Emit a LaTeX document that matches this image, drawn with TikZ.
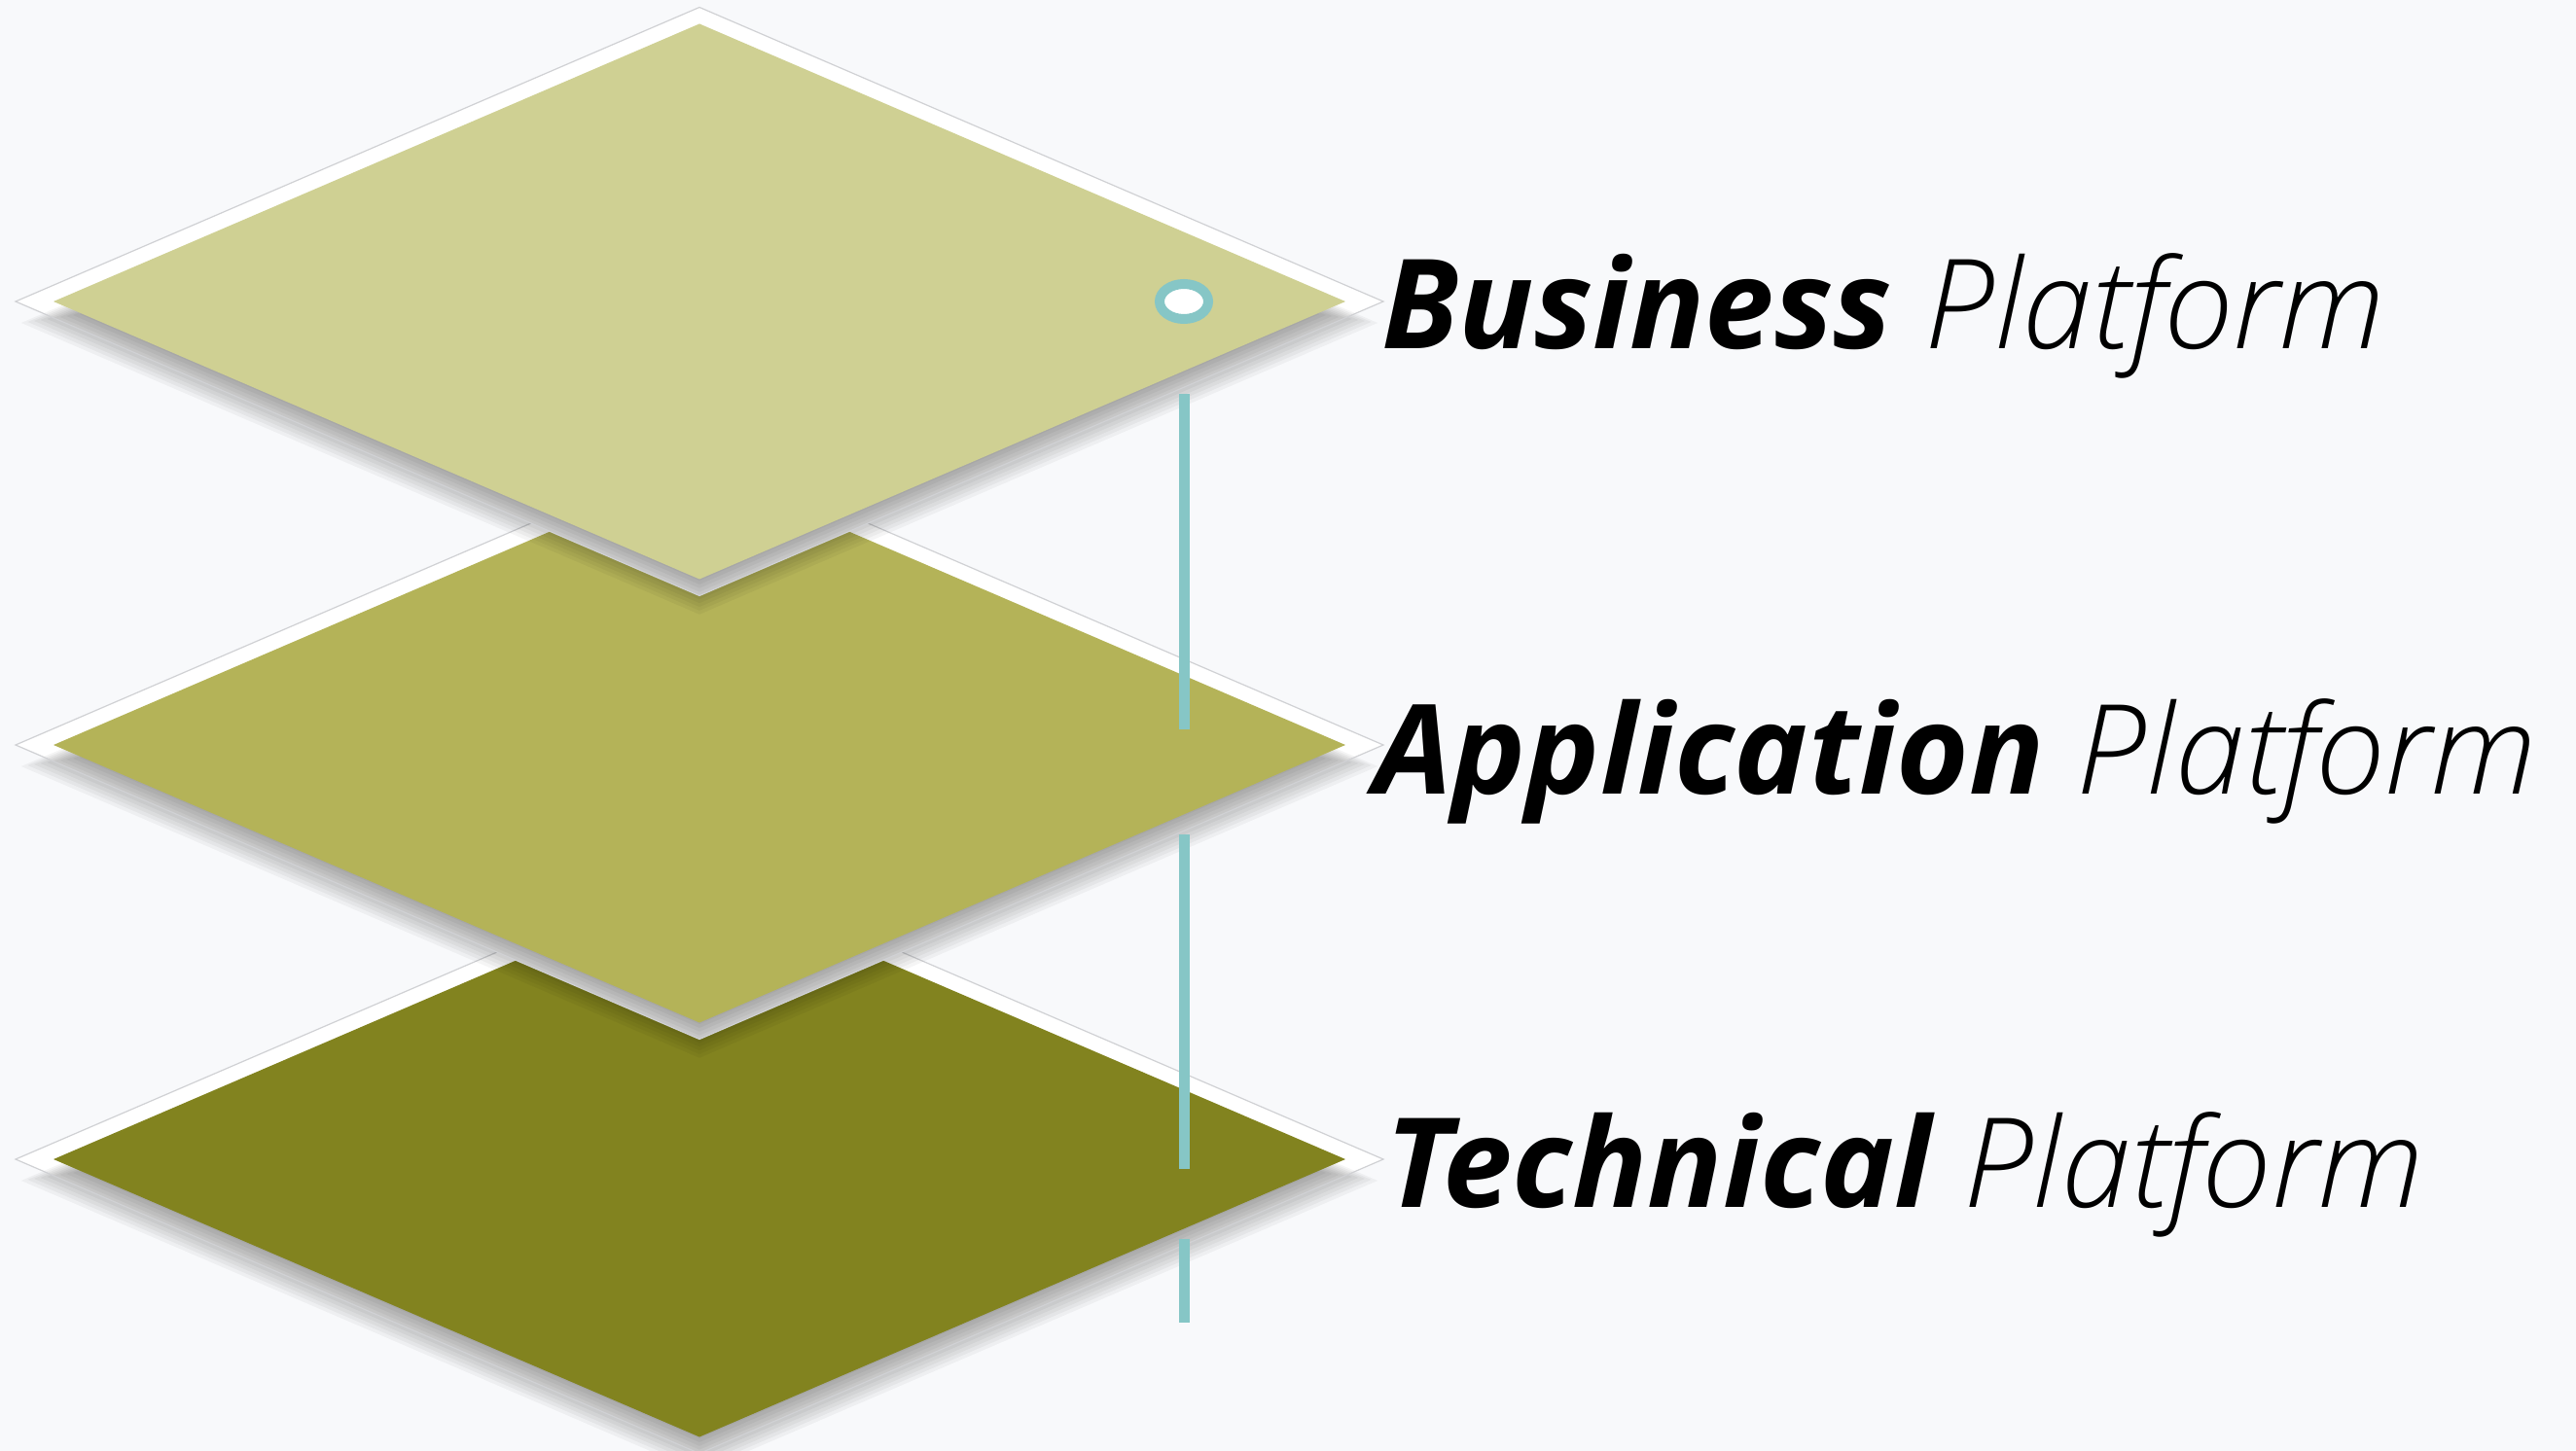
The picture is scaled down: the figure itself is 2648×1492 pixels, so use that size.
\documentclass[tikz,border=0pt]{standalone}
\usepackage{fontspec}
\IfFontExistsTF{Open Sans}{\setmainfont{Open Sans}}{\setmainfont{Liberation Sans}}
\IfFontExistsTF{OpenSans-LightItalic.ttf}{\newfontfamily\lightface{OpenSans-LightItalic.ttf}[ItalicFont=OpenSans-LightItalic.ttf]}{\newfontfamily\lightface{Open Sans}}
\usetikzlibrary{positioning}
\definecolor{pagebg}{RGB}{248,249,251}
\definecolor{bizgreen}{RGB}{207,208,147}
\definecolor{appgreen}{RGB}{180,179,88}
\definecolor{techgreen}{RGB}{130,131,31}
\definecolor{linkteal}{RGB}{134,198,198}
\definecolor{rimgray}{RGB}{208,209,212}
\newcommand{\platformpath}[2]{(-#1,0) -- (0,-#2) -- (#1,0) -- (0,#2) -- cycle}
\tikzset{board/.style={fill=white},
  rim/.style={draw=rimgray,line width=0.6pt},
  link/.style={draw=linkteal,line width=5.5pt},
  platlabel/.style={anchor=base west,inner sep=0pt,font=\fontsize{64}{70}\selectfont} }

\begin{document}
\begin{tikzpicture}[x=0.5pt,y=-0.5pt]
  \fill[pagebg] (0,0) rectangle (2648,1492);
  \useasboundingbox (0,0) rectangle (2648,1492);

  % platforms, lowest first
  \foreach \cy/\col/\nm in {1192/techgreen/tech,766/appgreen/app,310/bizgreen/biz}{
    \coordinate (\nm) at (719,\cy);
    \begin{scope}[shift={(\nm)}]
      \fill[board] \platformpath{703}{302.5};
    \end{scope}
    \foreach \s in {0.96,0.97,...,1.055}{
      \begin{scope}[shift={(719,\cy+17+100*(\s-1))},scale=\s]
        \fill[black,fill opacity=0.04] \platformpath{664}{285.5};
      \end{scope}
    }
    \begin{scope}[shift={(\nm)}]
      \draw[rim] \platformpath{703}{302.5};
      \fill[\col] \platformpath{664}{285.5};
    \end{scope}
  }

  % link line
  \coordinate (l1a) at (1217,405);
  \coordinate (l1b) at (1217,750);
  \coordinate (l2a) at (1217,858);
  \coordinate (l2b) at (1217,1202);
  \coordinate (l3a) at (1217,1274);
  \coordinate (l3b) at (1217,1360);
  \draw[link] (l1a) -- (l1b);
  \draw[link] (l2a) -- (l2b);
  \draw[link] (l3a) -- (l3b);
  \coordinate (marker) at (1217,310);
  \draw[linkteal,line width=5pt,fill=white] (marker) ellipse [x radius=12.5pt,y radius=9pt];

  \node[platlabel] (bizlabel) at (1420,358) {\bfseries\itshape Business \lightface\itshape Platform};
  \node[platlabel] (applabel) at (1412,816) {\bfseries\itshape Application \lightface\itshape Platform};
  \node[platlabel] (techlabel) at (1424,1241) {\bfseries\itshape Technical \lightface\itshape Platform};
\end{tikzpicture}
\end{document}
